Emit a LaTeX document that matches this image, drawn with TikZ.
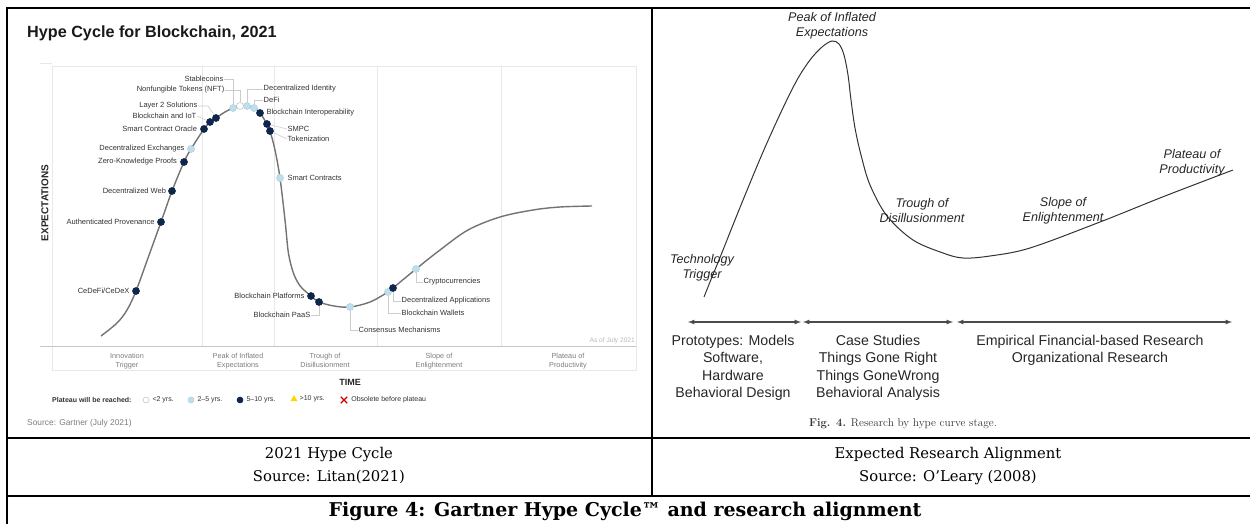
\documentclass[tikz,border=0pt]{standalone}
\usepackage{fontspec}
\setsansfont{Liberation Sans}
\newfontfamily\capserif{DejaVu Serif}
\usepackage{xcolor}
\usepackage{tikz}
\usetikzlibrary{shapes,arrows,positioning}

\definecolor{navy}{RGB}{14,37,76}
\definecolor{paleblue}{RGB}{190,223,238}
\definecolor{curvegray}{RGB}{115,115,115}
\definecolor{gridgray}{RGB}{232,232,232}
\definecolor{inkgray}{RGB}{50,50,50}
\definecolor{softgray}{RGB}{125,125,125}

\newcommand{\fsz}[2]{\fontsize{#1}{#2}\selectfont}

\begin{document}
\begin{tikzpicture}[x=1pt, y=-1pt, every node/.style={inner sep=0pt}]

    % styles for both panels and the table around them
    \tikzset{
        techdot/.style={circle, inner sep=0pt, minimum size=7pt, line width=0.6pt},
        darkdot/.style={techdot, fill=navy, draw=navy},
        lightdot/.style={techdot, fill=paleblue, draw=paleblue!85!gray},
        opendot/.style={techdot, fill=white, draw=gray!45},
        techlabel/.style={font=\sffamily\fsz{7.5}{9}, text=inkgray, inner sep=0.5pt},
        leader/.style={draw=gray!40, line width=0.6pt},
        phaselabel/.style={font=\sffamily\fsz{7.3}{9}, text=softgray, align=center, anchor=north},
        legendtext/.style={font=\sffamily\fsz{7}{8}, text=inkgray, anchor=west},
        hype/.style={draw=curvegray, line width=1.4pt},
        gridline/.style={draw=gridgray, line width=0.8pt},
        stagename/.style={font=\sffamily\itshape\fsz{12.6}{15}, text=black!85, align=center},
        stagearrow/.style={<->, >=latex, draw=black!70, line width=1.2pt},
        stagetext/.style={font=\sffamily\fsz{14.2}{17.5}, text=black!85, align=center, anchor=north},
        celltext/.style={font=\capserif\fsz{14.8}{23}, align=center},
        rule/.style={draw=black, line width=2pt}
    }

    \useasboundingbox (0,0) rectangle (1250,524);

    % ---------- left panel: Gartner hype cycle ----------
    \node[anchor=west, font=\sffamily\bfseries\fsz{16.2}{18}, text=black!90] (title) at (27,33) {Hype Cycle for Blockchain, 2021};

    % plot frame and phase grid
    \draw[gridline] (52,66) rectangle (636,370);
    \foreach \gx in {202,274,377,501}
        \draw[gridline] (\gx,66) -- (\gx,346);
    \draw[gray!45, line width=1pt] (40,346) -- (636,346);
    \draw[gridline] (40,63) -- (52,63);

    \node[phaselabel] (ph1) at (127,353.5) {Innovation\\Trigger};
    \node[phaselabel] (ph2) at (238,353.5) {Peak of Inflated\\Expectations};
    \node[phaselabel] (ph3) at (325,353.5) {Trough of\\Disillusionment};
    \node[phaselabel] (ph4) at (439,353.5) {Slope of\\Enlightenment};
    \node[phaselabel] (ph5) at (568,353.5) {Plateau of\\Productivity};

    \node[rotate=90, font=\sffamily\bfseries\fsz{10}{12}, text=black!85] (yaxis) at (45,203) {EXPECTATIONS};
    \node[font=\sffamily\bfseries\fsz{9}{11}, text=black!85] (xaxis) at (350,382) {TIME};
    \node[anchor=east, font=\sffamily\fsz{6.6}{8}, text=gray!55] (asof) at (635,341) {As of July 2021};

    % the curve
    \draw[hype] plot[smooth, tension=0.55] coordinates {
        (101,336) (117,323) (127,310) (136,291) (148,258) (161,222) (172,191)
        (184,162) (191,149) (204,129) (210,122) (216,118) (225,112) (233,108)
        (240,106) (247,106) (254,108) (260,113) (267,124) (270,131) (275,150)
        (280,178) (285,220) (288,250) (291,265) (295,277) (301,287) (311,296)
        (319,302) (334,306) (350,307) (370,302) (388,292) (393,288) (416,269)
        (440,250) (468,230) (500,217) (533,210) (560,207) (592,206)};

    % technologies on the rising side
    \node[darkdot] (cedefi) at (136,291) {};
    \node[darkdot] (authprov) at (161,222) {};
    \node[darkdot] (decweb) at (172,191) {};
    \node[darkdot] (zkp) at (184,162) {};
    \node[lightdot] (dex) at (191,149) {};
    \node[darkdot] (oracle) at (204,129) {};
    \node[darkdot] (iot) at (210,122) {};
    \node[darkdot] (layer2) at (216,118) {};
    \node[lightdot] (stable) at (233,108) {};
    \node[opendot] (nft) at (240,106) {};

    \node[techlabel, left=2pt of cedefi] (cedefi-l) {CeDeFi/CeDeX};
    \node[techlabel, left=2pt of authprov] (authprov-l) {Authenticated Provenance};
    \node[techlabel, left=1.5pt of decweb] (decweb-l) {Decentralized Web};
    \node[techlabel, left=2.5pt of zkp] (zkp-l) {Zero-Knowledge Proofs};
    \node[techlabel, left=2pt of dex] (dex-l) {Decentralized Exchanges};
    \node[techlabel, left=2.5pt of oracle] (oracle-l) {Smart Contract Oracle};
    \node[techlabel, anchor=east] (iot-l) at (197,116) {Blockchain and IoT};
    \node[techlabel, anchor=east] (layer2-l) at (198,106) {Layer 2 Solutions};
    \node[techlabel, anchor=east] (stable-l) at (224,79) {Stablecoins};
    \node[techlabel, anchor=east] (nft-l) at (225,90) {Nonfungible Tokens (NFT)};

    \draw[leader] (iot-l.east) -- (iot);
    \draw[leader] (layer2-l.east) -- ++(10,0) -- (layer2);
    \draw[leader] (stable-l.east) -| (stable.north);
    \draw[leader] (nft-l.east) -| (nft.north);

    % technologies past the peak
    \node[lightdot] (decid) at (247,106) {};
    \node[lightdot] (defi) at (254,108) {};
    \node[darkdot] (interop) at (260,113) {};
    \node[darkdot] (smpc) at (267,124) {};
    \node[darkdot] (token) at (270,131) {};
    \node[lightdot] (smartc) at (280,178) {};
    \node[darkdot] (platforms) at (311,296) {};
    \node[darkdot] (paas) at (319,302) {};
    \node[lightdot] (consensus) at (350,307) {};
    \node[lightdot] (wallets) at (388,292) {};
    \node[darkdot] (dapps) at (393,288) {};
    \node[lightdot] (crypto) at (416,269) {};

    \node[techlabel, anchor=west] (decid-l) at (263,89) {Decentralized Identity};
    \node[techlabel, anchor=west] (defi-l) at (263,100) {DeFi};
    \node[techlabel, right=2pt of interop] (interop-l) {Blockchain Interoperability};
    \node[techlabel, anchor=west] (smpc-l) at (287,129) {SMPC};
    \node[techlabel, anchor=west] (token-l) at (287,139) {Tokenization};
    \node[techlabel, right=3pt of smartc] (smartc-l) {Smart Contracts};
    \node[techlabel, left=2pt of platforms] (platforms-l) {Blockchain Platforms};
    \node[techlabel, anchor=east] (paas-l) at (311,315) {Blockchain PaaS};
    \node[techlabel, anchor=west] (consensus-l) at (358,330) {Consensus Mechanisms};
    \node[techlabel, anchor=west] (wallets-l) at (401,313) {Blockchain Wallets};
    \node[techlabel, anchor=west] (dapps-l) at (401,301) {Decentralized Applications};
    \node[techlabel, anchor=west] (crypto-l) at (423,282) {Cryptocurrencies};

    \draw[leader] (decid) |- (decid-l.west);
    \draw[leader] (defi) |- (defi-l.west);
    \draw[leader] (smpc) -- (smpc-l.west);
    \draw[leader] (token) -- (token-l.west);
    \draw[leader] (paas) |- (paas-l.east);
    \draw[leader] (consensus) |- (consensus-l.west);
    \draw[leader] (wallets) |- (wallets-l.west);
    \draw[leader] (dapps) |- (dapps-l.west);
    \draw[leader] (crypto) |- (crypto-l.west);

    % legend
    \node[legendtext, font=\sffamily\bfseries\fsz{7}{8}] (lgtitle) at (52,400) {Plateau will be reached:};
    \node[opendot, minimum size=6pt] (lg1) at (146,400) {};
    \node[legendtext, right=3pt of lg1] (lg1-t) {<2 yrs.};
    \node[lightdot, minimum size=6pt] (lg2) at (191,400) {};
    \node[legendtext, right=3pt of lg2] (lg2-t) {2--5 yrs.};
    \node[darkdot, minimum size=6pt] (lg3) at (240,400) {};
    \node[legendtext, right=3pt of lg3] (lg3-t) {5--10 yrs.};
    \node[regular polygon, regular polygon sides=3, fill=yellow!75!orange, minimum size=8pt] (lg4) at (294,399) {};
    \node[legendtext, right=3pt of lg4] (lg4-t) {>10 yrs.};
    \node[cross out, draw=red!80!black, line width=1.3pt, minimum size=5pt] (lg5) at (344,400) {};
    \node[legendtext, right=4pt of lg5] (lg5-t) {Obsolete before plateau};

    \node[anchor=west, font=\sffamily\fsz{8.4}{10}, text=softgray] (src) at (27,423) {Source: Gartner (July 2021)};

    % ---------- right panel: research by curve stage ----------
    \draw[black!80, line width=1pt] plot[smooth, tension=0.55] coordinates {
        (704,297) (712,277) (721,255) (741,205) (763,152) (782,110) (797,80)
        (810,60) (822,47) (832,41) (839,44) (844,55) (848,75) (851,100)
        (855,128) (861,155) (870,185) (887,216) (913,240) (943,253) (963,258)
        (990,256) (1030,248) (1100,222) (1165,196) (1233,170)};

    \node[stagename] (peak) at (832,25.5) {Peak of Inflated\\Expectations};
    \node[stagename] (trough) at (922,210.5) {Trough of\\Disillusionment};
    \node[stagename] (slope) at (1063,210.5) {Slope of\\Enlightenment};
    \node[stagename] (plateau) at (1192,162.5) {Plateau of\\Productivity};
    \node[stagename] (trigger) at (702,267.5) {Technology\\Trigger};

    \coordinate (s1a) at (688,322); \coordinate (s1b) at (801,322);
    \coordinate (s2a) at (803,322); \coordinate (s2b) at (953,322);
    \coordinate (s3a) at (957,322); \coordinate (s3b) at (1232,322);
    \draw[stagearrow] (s1a) -- (s1b);
    \draw[stagearrow] (s2a) -- (s2b);
    \draw[stagearrow] (s3a) -- (s3b);

    \node[stagetext] (proto) at (733,335) {Prototypes: Models\\Software,\\Hardware\\Behavioral Design};
    \node[stagetext] (cases) at (878,335) {Case Studies\\Things Gone Right\\Things GoneWrong\\Behavioral Analysis};
    \node[stagetext] (empir) at (1090,335) {Empirical Financial-based Research\\Organizational Research};

    \node[font=\fsz{11.3}{13}, text=black!80] (figcap) at (903,424) {\textbf{Fig. 4.} Research by hype curve stage.};

    % ---------- table ----------
    \draw[rule] (7,8) -- (1250,8);
    \draw[rule] (7,7) -- (7,524);
    \draw[rule] (652,8) -- (652,496);
    \draw[rule] (7,438) -- (1250,438);
    \draw[rule] (7,496) -- (1250,496);

    \node[celltext] (leftcap) at (329,466) {2021 Hype Cycle\\Source: Litan(2021)};
    \node[celltext] (rightcap) at (948,466) {Expected Research Alignment\\Source: O’Leary (2008)};
    \node[font=\capserif\bfseries\fsz{19}{22}] (figtitle) at (625,511) {Figure 4: Gartner Hype Cycle™ and research alignment};

\end{tikzpicture}
\end{document}
